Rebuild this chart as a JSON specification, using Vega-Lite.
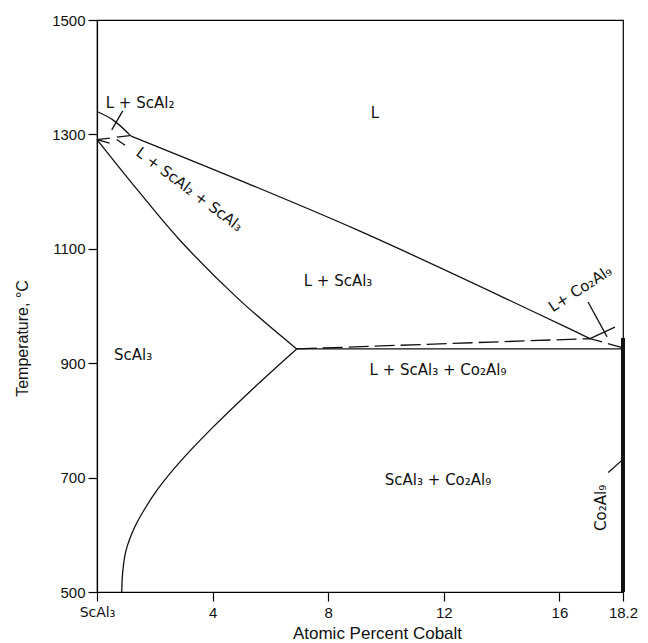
{
  "$schema": "https://vega.github.io/schema/vega-lite/v6.json",
  "autosize": "none",
  "width": 526,
  "height": 572,
  "padding": {"left": 97, "top": 20, "right": 25, "bottom": 51},
  "background": "white",
  "config": {
    "view": {"stroke": "black", "strokeWidth": 1.2},
    "font": "Liberation Sans",
    "axis": {
      "grid": false,
      "domainColor": "black",
      "domainWidth": 1.2,
      "tickColor": "black",
      "tickWidth": 1.2,
      "tickSize": 9,
      "labelColor": "#111",
      "labelFont": "Liberation Sans",
      "labelFontSize": 15,
      "titleFont": "Liberation Sans",
      "titleFontWeight": "normal",
      "titleColor": "#111"
    }
  },
  "datasets": {
    "lines": [
      {"seg": "liq1", "i": 1, "x": 0, "T": 1340},
      {"seg": "liq1", "i": 2, "x": 0.56, "T": 1325},
      {"seg": "liq1", "i": 3, "x": 1.18, "T": 1297},
      {"seg": "liq2", "i": 1, "x": 1.18, "T": 1297},
      {"seg": "liq2", "i": 2, "x": 9, "T": 1133},
      {"seg": "liq2", "i": 3, "x": 17.06, "T": 943},
      {"seg": "solhi", "i": 1, "x": 0, "T": 1291},
      {"seg": "solhi", "i": 2, "x": 1.4, "T": 1203},
      {"seg": "solhi", "i": 3, "x": 2.87, "T": 1115},
      {"seg": "solhi", "i": 4, "x": 4.9, "T": 1012},
      {"seg": "solhi", "i": 5, "x": 6.91, "T": 925},
      {"seg": "sollo", "i": 1, "x": 6.91, "T": 925},
      {"seg": "sollo", "i": 2, "x": 5.47, "T": 859},
      {"seg": "sollo", "i": 3, "x": 3.97, "T": 786},
      {"seg": "sollo", "i": 4, "x": 2.81, "T": 724},
      {"seg": "sollo", "i": 5, "x": 2.12, "T": 681},
      {"seg": "sollo", "i": 6, "x": 1.66, "T": 646},
      {"seg": "sollo", "i": 7, "x": 1.29, "T": 612},
      {"seg": "sollo", "i": 8, "x": 1.0, "T": 572},
      {"seg": "sollo", "i": 9, "x": 0.89, "T": 535},
      {"seg": "sollo", "i": 10, "x": 0.855, "T": 500},
      {"seg": "eut", "i": 1, "x": 6.91, "T": 925},
      {"seg": "eut", "i": 2, "x": 18.2, "T": 925},
      {"seg": "liq3", "i": 1, "x": 17.06, "T": 943},
      {"seg": "liq3", "i": 2, "x": 17.92, "T": 963},
      {"seg": "ld1", "i": 1, "x": 0.89, "T": 1341},
      {"seg": "ld1", "i": 2, "x": 0.51, "T": 1308},
      {"seg": "ld2", "i": 1, "x": 0.68, "T": 1291},
      {"seg": "ld2", "i": 2, "x": 0.97, "T": 1281},
      {"seg": "ld3", "i": 1, "x": 16.99, "T": 1007},
      {"seg": "ld3", "i": 2, "x": 17.65, "T": 946},
      {"seg": "ld4", "i": 1, "x": 17.69, "T": 709},
      {"seg": "ld4", "i": 2, "x": 18.18, "T": 731}
    ],
    "dashed": [
      {"seg": "d1", "i": 1, "x": 6.91, "T": 925},
      {"seg": "d1", "i": 2, "x": 17.06, "T": 943},
      {"seg": "d1", "i": 3, "x": 18.2, "T": 927}
    ],
    "shortdash": [
      {"seg": "s1", "i": 1, "x": 0, "T": 1291},
      {"seg": "s1", "i": 2, "x": 1.18, "T": 1298},
      {"seg": "s2", "i": 1, "x": 0, "T": 1291},
      {"seg": "s2", "i": 2, "x": 0.5, "T": 1284}
    ],
    "phase": [
      {"seg": "co2al9", "i": 1, "x": 18.2, "T": 500},
      {"seg": "co2al9", "i": 2, "x": 18.2, "T": 944}
    ],
    "labels": [
      {"label": "L", "x": 9.62, "T": 1337},
      {"label": "L + ScAl₂", "x": 1.49, "T": 1355},
      {"label": "L + ScAl₃", "x": 8.34, "T": 1044},
      {"label": "ScAl₃", "x": 1.25, "T": 914},
      {"label": "L + ScAl₃ + Co₂Al₉", "x": 11.8, "T": 888},
      {"label": "ScAl₃ + Co₂Al₉", "x": 11.8, "T": 696}
    ],
    "diag": [
      {"label": "L + ScAl₂ + ScAl₃", "x": 3.2, "T": 1204}
    ],
    "diag2": [
      {"label": "L+ Co₂Al₉", "x": 16.72, "T": 1030}
    ],
    "vert": [
      {"label": "Co₂Al₉", "x": 17.44, "T": 647}
    ]
  },
  "encoding": {
    "x": {
      "field": "x", "type": "quantitative",
      "scale": {"domain": [0, 18.2], "nice": false, "zero": false},
      "axis": {
        "values": [0, 4, 8, 12, 16, 18.2],
        "labelExpr": "datum.value == 0 ? 'ScAl₃' : (datum.value > 18 ? '18.2' : datum.label)",
        "labelFlush": false,
        "labelOverlap": false,
        "labelPadding": 4,
        "labelFont": {"condition": {"test": "datum.value == 0", "value": "DejaVu Sans"}, "value": "Liberation Sans"},
        "labelFontSize": {"condition": {"test": "datum.value == 0", "value": 14}, "value": 15},
        "title": "Atomic Percent Cobalt",
        "titleFontSize": 17,
        "titleX": 280,
        "titleY": 41,
        "titleBaseline": "middle",
        "titleAlign": "center"
      }
    },
    "y": {
      "field": "T", "type": "quantitative",
      "scale": {"domain": [500, 1500], "nice": false, "zero": false},
      "axis": {
        "values": [500, 700, 900, 1100, 1300, 1500],
        "format": "d",
        "labelFlush": false,
        "labelPadding": 3,
        "title": "Temperature, °C",
        "titleFontSize": 16,
        "titleX": -75,
        "titleY": 318,
        "titleAngle": -90,
        "titleBaseline": "middle",
        "titleAlign": "center"
      }
    }
  },
  "layer": [
    {
      "data": {"name": "lines"},
      "mark": {"type": "line", "color": "#111", "strokeWidth": 1.3, "interpolate": "catmull-rom"},
      "encoding": {"detail": {"field": "seg"}, "order": {"field": "i", "type": "quantitative"}}
    },
    {
      "data": {"name": "dashed"},
      "mark": {"type": "line", "color": "#111", "strokeWidth": 1.3, "strokeDash": [20, 6]},
      "encoding": {"detail": {"field": "seg"}, "order": {"field": "i", "type": "quantitative"}}
    },
    {
      "data": {"name": "shortdash"},
      "mark": {"type": "line", "color": "#111", "strokeWidth": 1.3, "strokeDash": [13, 7]},
      "encoding": {"detail": {"field": "seg"}, "order": {"field": "i", "type": "quantitative"}}
    },
    {
      "data": {"name": "phase"},
      "mark": {"type": "line", "color": "#111", "strokeWidth": 4},
      "encoding": {"detail": {"field": "seg"}, "order": {"field": "i", "type": "quantitative"}}
    },
    {
      "data": {"name": "labels"},
      "mark": {"type": "text", "font": "DejaVu Sans", "fontSize": 15, "color": "#111", "align": "center", "baseline": "middle"},
      "encoding": {"text": {"field": "label"}}
    },
    {
      "data": {"name": "diag"},
      "mark": {"type": "text", "font": "DejaVu Sans", "fontSize": 15, "color": "#111", "align": "center", "baseline": "middle", "angle": 37},
      "encoding": {"text": {"field": "label"}}
    },
    {
      "data": {"name": "diag2"},
      "mark": {"type": "text", "font": "DejaVu Sans", "fontSize": 15, "color": "#111", "align": "center", "baseline": "middle", "angle": -33},
      "encoding": {"text": {"field": "label"}}
    },
    {
      "data": {"name": "vert"},
      "mark": {"type": "text", "font": "DejaVu Sans", "fontSize": 15, "color": "#111", "align": "center", "baseline": "middle", "angle": -90},
      "encoding": {"text": {"field": "label"}}
    }
  ]
}
